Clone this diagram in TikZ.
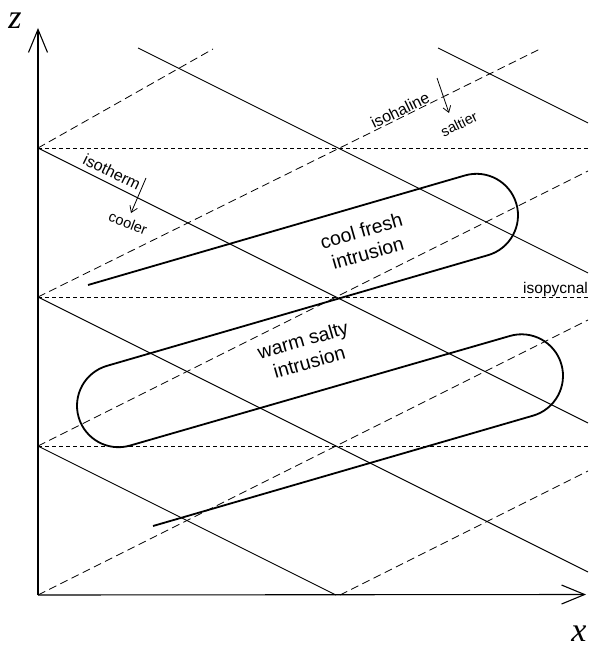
\documentclass[tikz,border=0pt]{standalone}
\usepackage{fontspec}
\setmainfont{Liberation Sans}
\newfontfamily\axisfont{Liberation Serif}
\usetikzlibrary{arrows.meta}
\begin{document}
\begin{tikzpicture}[x=1pt,y=-1pt,
  isotherm/.style={line width=0.9pt},
  isohaline/.style={line width=0.8pt, dash pattern=on 8pt off 4.5pt},
  isopyc/.style={line width=0.8pt, dash pattern=on 4pt off 3pt},
  tongue/.style={line width=1.8pt, line join=round},
  axisline/.style={line width=1.1pt, -{Straight Barb[length=23pt,width=19pt,line width=1.1pt]}},
  note/.style={font=\fontsize{16}{18}\selectfont, inner sep=0pt},
  smallnote/.style={font=\fontsize{14.5}{16}\selectfont, inner sep=0pt},
  bignote/.style={font=\fontsize{19.5}{23}\selectfont, align=center, inner sep=0pt},
  axislabel/.style={font=\fontsize{34}{38}\axisfont\itshape, inner sep=0pt},
  pointer/.style={line width=0.8pt, -{Straight Barb[length=6pt,width=8pt,line width=0.8pt]}}
]
\useasboundingbox (0,0) rectangle (590,647);

% axes
\coordinate (O) at (38,595);
\coordinate (ztop) at (38,28);
\coordinate (xend) at (586,594.5);
\draw[axisline] (O) -- (ztop);
\draw[axisline] (O) -- (xend);

% isopycnals
\coordinate (p1a) at (38,148); \coordinate (p1b) at (588,148);
\coordinate (p2a) at (38,297); \coordinate (p2b) at (588,297);
\coordinate (p3a) at (38,446); \coordinate (p3b) at (588,446);
\draw[isopyc] (p1a) -- (p1b);
\draw[isopyc] (p2a) -- (p2b);
\draw[isopyc] (p3a) -- (p3b);

% isotherms
\coordinate (t0a) at (138,48);  \coordinate (t0b) at (588,273);
\coordinate (t1a) at (438,48);  \coordinate (t1b) at (588,123);
\coordinate (t2b) at (588,423);
\coordinate (t3b) at (588,572);
\coordinate (t4b) at (336,595);
\draw[isotherm] (t0a) -- (t0b);
\draw[isotherm] (t1a) -- (t1b);
\draw[isotherm] (p1a) -- (t2b);
\draw[isotherm] (p2a) -- (t3b);
\draw[isotherm] (p3a) -- (t4b);

% isohalines
\coordinate (h1b) at (213,49);
\coordinate (h2b) at (542,48);
\coordinate (h3b) at (588,171);
\coordinate (h4b) at (588,320);
\coordinate (h5a) at (340,595); \coordinate (h5b) at (588,471);
\draw[isohaline] (p1a) -- (h1b);
\draw[isohaline] (p2a) -- (h2b);
\draw[isohaline] (p3a) -- (h3b);
\draw[isohaline] (O) -- (h4b);
\draw[isohaline] (h5a) -- (h5b);

% intrusions (zig-zag tongue)
\coordinate (tstart) at (88,285);
\coordinate (tend) at (153,526);
\draw[tongue] (tstart) -- (464.94,175.45)
  .. controls (486.95,169.06) and (509.96,181.73) .. (516.35,203.74)
  .. controls (522.74,225.75) and (510.07,248.76) .. (488.06,255.15)
  -- (106.94,365.85)
  .. controls (84.93,372.24) and (72.26,395.25) .. (78.65,417.26)
  .. controls (85.04,439.27) and (108.05,451.94) .. (130.06,445.55)
  -- (509.94,335.95)
  .. controls (531.95,329.56) and (554.96,342.23) .. (561.35,364.24)
  .. controls (567.74,386.25) and (555.07,409.26) .. (533.06,415.65)
  -- (tend);

% pointers
\coordinate (c1) at (146,178); \coordinate (c2) at (131,213);
\coordinate (s1) at (437,78);  \coordinate (s2) at (449,113);
\draw[pointer] (c1) -- (c2);
\draw[pointer] (s1) -- (s2);

% labels
\node[note, rotate=-26] (lblT) at (112,172) {isotherm};
\node[smallnote, rotate=-21] (lblC) at (128,223) {cooler};
\node[note, rotate=26] (lblH) at (400,110) {isohaline};
\node[smallnote, rotate=26] (lblS) at (459,124) {saltier};
\node[note, font=\fontsize{15.5}{17}\selectfont, anchor=base west] (lblP) at (523,293) {isopycnal};
\node[bignote, rotate=16] (lblCF) at (364.5,242) {cool fresh\\intrusion};
\node[bignote, rotate=16] (lblWS) at (306,351) {warm salty\\intrusion};
\node[axislabel] (lblZ) at (15,21) {z};
\node[axislabel] (lblX) at (579,634) {x};
\end{tikzpicture}
\end{document}
